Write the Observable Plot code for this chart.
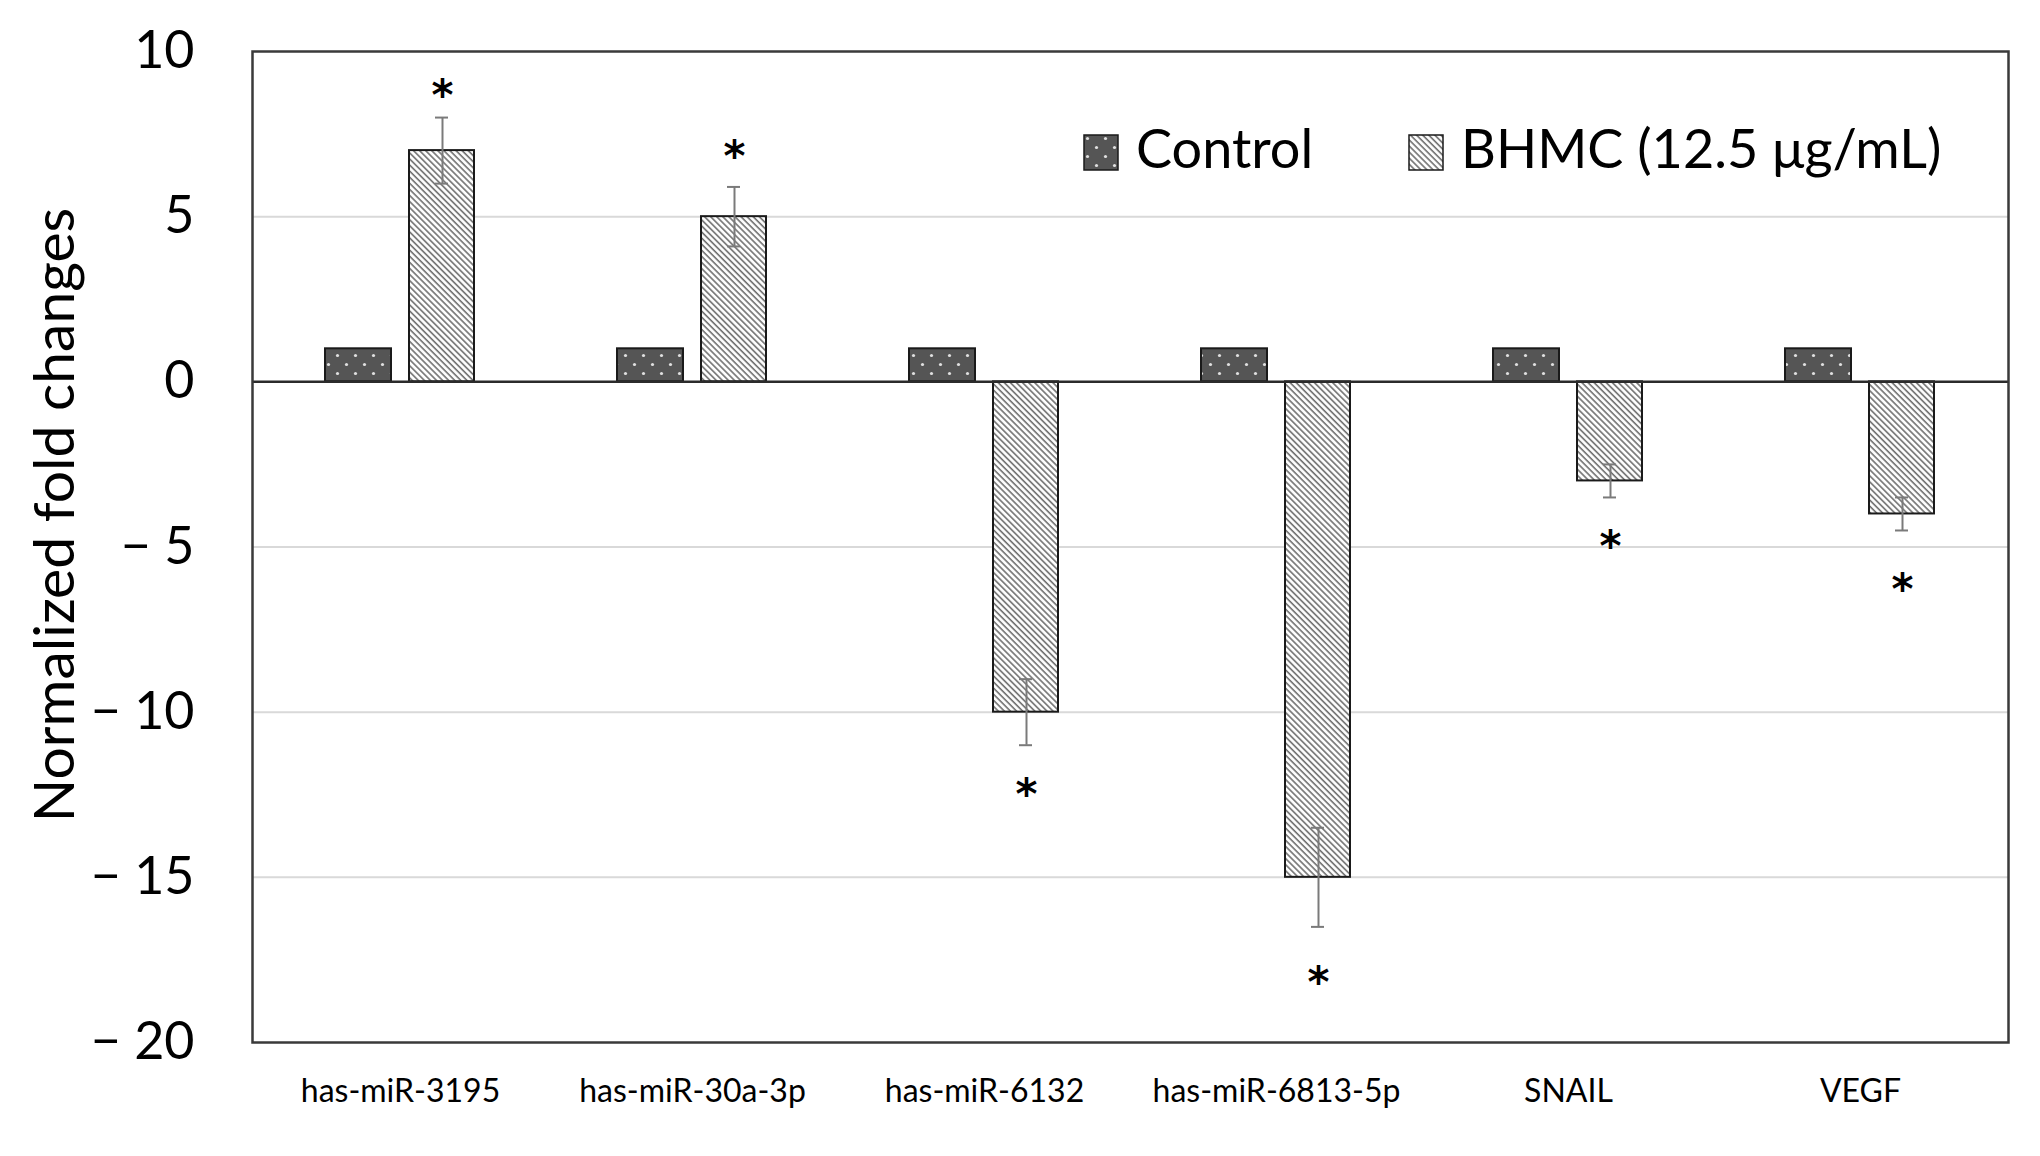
<!DOCTYPE html>
<html>
<head>
<meta charset="utf-8">
<script src="https://cdn.jsdelivr.net/npm/d3@7"></script>
<script src="https://cdn.jsdelivr.net/npm/@observablehq/plot@0.6"></script>
<style>
  html, body { margin: 0; padding: 0; background: #fff; color: #000; }
  #wrap { position: relative; width: 2040px; height: 1156px; font-family: Lato, "Open Sans", sans-serif; }
  .lg { position: absolute; font-size: 54px; line-height: 1; white-space: nowrap; color: #000; }
  .sw { position: absolute; }
</style>
</head>
<body>
<svg width="0" height="0" style="position:absolute">
  <defs>
    <pattern id="dots" patternUnits="userSpaceOnUse" width="18" height="18">
      <rect width="18" height="18" fill="#555555"></rect>
      <circle cx="4.5" cy="4.5" r="1.6" fill="#e0e0e0"></circle>
      <circle cx="13.5" cy="13.5" r="1.6" fill="#e0e0e0"></circle>
    </pattern>
    <pattern id="hatch" patternUnits="userSpaceOnUse" width="4.3" height="10" patternTransform="rotate(-45)">
      <rect width="4.3" height="10" fill="#ffffff"></rect>
      <line x1="1" y1="0" x2="1" y2="10" stroke="#6e6e6e" stroke-width="1.6"></line>
    </pattern>
  </defs>
</svg>
<div id="wrap"></div>
<script>
const categories = ["has-miR-3195", "has-miR-30a-3p", "has-miR-6132", "has-miR-6813-5p", "SNAIL", "VEGF"];
const controlValues = [1, 1, 1, 1, 1, 1];
const bhmcValues = [7, 5, -10, -15, -3, -4];
const bhmcErrors = [1, 0.9, 1, 1.5, 0.5, 0.5];
const starValues = [8.85, 7.0, -12.3, -18.0, -4.8, -6.1];
const yTicks = [-20, -15, -10, -5, 0, 5, 10];
const gridValues = [5, -5, -10, -15];
const seriesNames = ["Control", "BHMC (12.5 μg/mL)"];
const yTitle = "Normalized fold changes";

const rows = categories.map((c, i) => ({
  category: c,
  control: controlValues[i],
  bhmc: bhmcValues[i],
  err: bhmcErrors[i],
  star: starValues[i]
}));

const fmt = d => d < 0 ? "\u2212 " + Math.abs(d) : String(d);

const chart = Plot.plot({
  width: 2040,
  height: 1156,
  marginLeft: 252,
  marginRight: 32,
  marginTop: 51,
  marginBottom: 114,
  style: { fontFamily: "Lato, 'Open Sans', sans-serif", background: "white", color: "black" },
  x: { type: "band", domain: categories, padding: 0, label: null },
  y: { domain: [-20, 10], label: null },
  marks: [
    Plot.ruleY(gridValues, { stroke: "#d9d9d9", strokeWidth: 2 }),
    Plot.barY(rows, { x: "category", y: "control", fill: "url(#dots)", stroke: "#1a1a1a", strokeWidth: 2, insetLeft: 71, insetRight: 155 }),
    Plot.barY(rows, { x: "category", y: "bhmc", fill: "url(#hatch)", stroke: "#1a1a1a", strokeWidth: 2, insetLeft: 155, insetRight: 72 }),
    Plot.ruleY([0], { stroke: "#2b2b2b", strokeWidth: 2.5 }),
    Plot.ruleX(rows, { x: "category", y1: d => d.bhmc - d.err, y2: d => d.bhmc + d.err, dx: 42, stroke: "#7a7a7a", strokeWidth: 2 }),
    Plot.tickY(rows, { x: "category", y: d => d.bhmc + d.err, stroke: "#7a7a7a", strokeWidth: 2, insetLeft: 181, insetRight: 98 }),
    Plot.tickY(rows, { x: "category", y: d => d.bhmc - d.err, stroke: "#7a7a7a", strokeWidth: 2, insetLeft: 181, insetRight: 98 }),
    Plot.text(rows, { x: "category", y: "star", text: () => "*", dx: 42, dy: 7, fontSize: 42, fontWeight: "bold", fontFamily: "DejaVu Sans", fill: "black" }),
    Plot.frame({ stroke: "#3a3a3a", strokeWidth: 2.5 }),
    Plot.axisY({ ticks: yTicks, tickFormat: fmt, tickSize: 0, tickPadding: 58, fontSize: 52, label: null }),
    Plot.axisX({ tickSize: 0, tickPadding: 37, fontSize: 32, label: null }),
    Plot.text([yTitle], { frameAnchor: "left", textAnchor: "middle", rotate: -90, dx: -197, dy: -32, fontSize: 57, fill: "black" })
  ]
});

const wrap = document.getElementById("wrap");
wrap.appendChild(chart);

// Legend (HTML overlay inside the plot area)
const legendItems = [
  { name: seriesNames[0], fill: "url(#dots)", swLeft: 1083, textLeft: 1136 },
  { name: seriesNames[1], fill: "url(#hatch)", swLeft: 1408, textLeft: 1461 }
];
for (const it of legendItems) {
  const sw = document.createElementNS("http://www.w3.org/2000/svg", "svg");
  sw.setAttribute("width", 36);
  sw.setAttribute("height", 37);
  sw.setAttribute("class", "sw");
  sw.style.left = it.swLeft + "px";
  sw.style.top = "134px";
  const r = document.createElementNS("http://www.w3.org/2000/svg", "rect");
  r.setAttribute("x", 1); r.setAttribute("y", 1);
  r.setAttribute("width", 34); r.setAttribute("height", 35);
  r.setAttribute("fill", it.fill);
  r.setAttribute("stroke", "#1a1a1a");
  r.setAttribute("stroke-width", 1.5);
  sw.appendChild(r);
  wrap.appendChild(sw);
  const t = document.createElement("div");
  t.className = "lg";
  t.textContent = it.name;
  t.style.left = it.textLeft + "px";
  t.style.top = "121px";
  wrap.appendChild(t);
}
</script>
</body>
</html>
